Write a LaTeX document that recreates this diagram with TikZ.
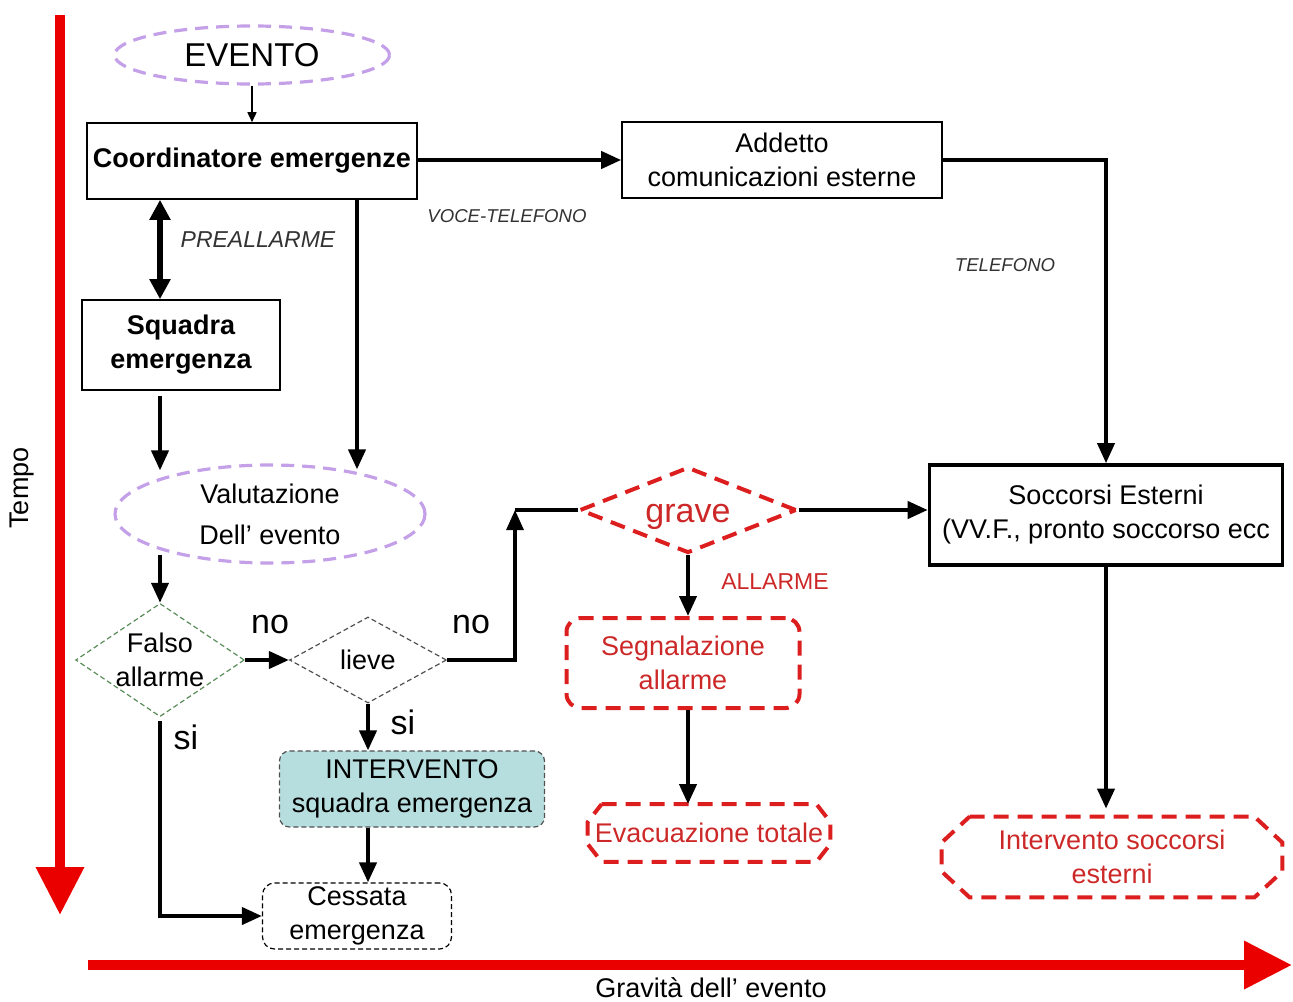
\documentclass[tikz,border=0pt]{standalone}
\usepackage{fontspec}
\setmainfont{Liberation Sans}
\usetikzlibrary{arrows.meta,shapes.geometric,calc}

\definecolor{lilac}{RGB}{196,160,232}
\definecolor{axisred}{RGB}{235,0,0}
\definecolor{dashred}{RGB}{220,30,30}
\definecolor{redtxt}{RGB}{205,40,40}
\definecolor{dashgreen}{RGB}{90,140,90}
\definecolor{dashgray}{RGB}{80,80,80}
\definecolor{tealfill}{RGB}{183,222,222}
\definecolor{notegray}{RGB}{50,50,50}

\newcommand{\basefs}{\fontsize{13.5}{17}\selectfont}
\newcommand{\eventfs}{\fontsize{16.5}{20}\selectfont}
\newcommand{\labelfs}{\fontsize{17}{20}\selectfont}
\newcommand{\notefs}{\fontsize{11.5}{14}\selectfont}
\newcommand{\smallfs}{\fontsize{9.3}{11}\selectfont}

\begin{document}
\begin{tikzpicture}[x=0.5pt,y=-0.5pt,
  box/.style={draw, line width=0.8pt, align=center, inner sep=1pt, font=\basefs},
  oval/.style={ellipse, draw=lilac, line width=1.6pt, dash pattern=on 6.5pt off 4pt, inner sep=0pt, align=center, font=\basefs},
  thindash/.style={line width=0.6pt, dash pattern=on 2.5pt off 1.5pt},
  diam/.style={diamond, thindash, inner sep=0pt, align=center, font=\basefs},
  redline/.style={draw=dashred, line width=2pt, dash pattern=on 7.5pt off 4.5pt},
  redbox/.style={redline, text=redtxt, align=center, inner sep=1pt, font=\basefs},
  redtext/.style={text=redtxt, align=center, inner sep=1pt, font=\basefs},
  arr/.style={line width=2pt, -{Triangle[length=10pt,width=8.5pt]}},
  thinarr/.style={line width=0.8pt, -{Triangle[length=5pt,width=4.5pt]}},
  dblarr/.style={line width=3pt, {Triangle[length=10pt,width=10pt]}-{Triangle[length=10pt,width=10pt]}},
  axis/.style={draw=axisred, line width=5pt, -{Triangle[length=24pt,width=23pt]}},
  lbl/.style={font=\labelfs, inner sep=0pt},
  note/.style={font=\notefs\itshape, text=notegray, inner sep=0pt}]

\useasboundingbox (0,0) rectangle (1293,1001);

% axes
\coordinate (tstart) at (60,15);
\coordinate (tend) at (60,915);
\coordinate (gstart) at (88,965);
\coordinate (gend) at (1292,965);
\draw[axis] (tstart) -- (tend);
\draw[axis] (gstart) -- (gend);
\node[rotate=90, font=\basefs] (tempo) at (22,488) {Tempo};
\node[font=\basefs] (gravita) at (711,988) {Gravità dell’ evento};

% lanes
\coordinate (laneA) at (160,0);
\coordinate (laneB) at (357,0);
\coordinate (up) at (515,510);

% nodes
\node[oval, font=\eventfs, minimum width=137.5pt, minimum height=29pt] (evento) at (252,55) {EVENTO};
\node[box, font=\basefs\bfseries, minimum width=165pt, minimum height=38pt] (coord) at (252,161) {Coordinatore emergenze};
\node[box, minimum width=160pt, minimum height=38pt] (addetto) at (782,160) {Addetto\\comunicazioni esterne};
\node[box, font=\basefs\bfseries, minimum width=99pt, minimum height=45pt] (squadra) at (181,345) {Squadra\\emergenza};
\node[oval, font=\fontsize{13.5}{20.5}\selectfont, minimum width=155pt, minimum height=49pt] (valut) at (270,514) {Valutazione\\Dell’ evento};
\node[diam, draw=dashgreen, aspect=1.49, minimum width=82pt, minimum height=55pt] (falso) at (160,660) {Falso\\allarme};
\node[diam, draw=dashgray, aspect=1.83, minimum width=78.5pt, minimum height=43pt] (lieve) at (368,660) {lieve};
\node[diamond, redbox, font=\labelfs, inner sep=0pt, text height=12pt, text depth=0pt, aspect=2.5, minimum width=108.5pt, minimum height=43pt] (grave) at (688,510) {grave};
\node[box, line width=1.8pt, minimum width=176.5pt, minimum height=50pt] (socc) at (1106,515) {Soccorsi Esterni\\(VV.F., pronto soccorso ecc};
\node[redbox, rounded corners=7pt, minimum width=116.5pt, minimum height=45pt] (segn) at (683,663) {Segnalazione\\allarme};
\node[redtext, minimum width=121pt, minimum height=28.5pt] (evac) at (709,833) {Evacuazione totale};
\node[redtext, minimum width=170pt, minimum height=40pt] (intsocc) at (1112,857) {Intervento soccorsi\\esterni};
\node[box, draw=dashgray, thindash, fill=tealfill, rounded corners=5pt, minimum width=132.5pt, minimum height=38pt] (interv) at (412,789) {INTERVENTO\\squadra emergenza};
\node[box, thindash, rounded corners=6pt, minimum width=94.5pt, minimum height=33pt] (cessata) at (357,916) {Cessata\\emergenza};

% chamfered outlines
\draw[redline] ([xshift=7pt]evac.north west) -- ([xshift=-7pt]evac.north east) -- ([yshift=-9pt]evac.north east)
  -- ([yshift=9pt]evac.south east) -- ([xshift=-7pt]evac.south east) -- ([xshift=7pt]evac.south west)
  -- ([yshift=9pt]evac.south west) -- ([yshift=-9pt]evac.north west) -- cycle;
\draw[redline] ([xshift=14pt]intsocc.north west) -- ([xshift=-14pt]intsocc.north east) -- ([yshift=-13pt]intsocc.north east)
  -- ([yshift=13pt]intsocc.south east) -- ([xshift=-14pt]intsocc.south east) -- ([xshift=14pt]intsocc.south west)
  -- ([yshift=13pt]intsocc.south west) -- ([yshift=-13pt]intsocc.north west) -- cycle;

% connectors
\draw[thinarr] (evento) -- (coord);
\draw[arr] (coord.east |- addetto.west) -- (addetto.west);
\draw[arr, line width=1.8pt] (addetto.east) -| (socc.north);
\draw[dblarr] (coord.south -| laneA) -- (squadra.north -| laneA);
\draw[arr, shorten <=2.5pt, shorten >=-3.5pt] (squadra.south -| laneA) -- (valut.north -| laneA);
\draw[arr, shorten >=-3pt] (coord.south -| laneB) -- (valut.north -| laneB);
\draw[arr, shorten <=-5pt] (valut.south -| laneA) -- (falso.north);
\draw[arr] (falso) -- (lieve);
\draw[arr, line width=1.6pt] (lieve.east) -| (up);
\draw[line width=1.6pt] (up) -- (grave.west);
\draw[arr] (grave.east) -- (grave.east -| socc.west);
\draw[arr] (grave.south) -- (grave.south |- segn.north);
\draw[arr] (segn.south -| grave) -- (evac.north -| grave);
\draw[arr, shorten >=4pt] (socc.south) -- (socc.south |- intsocc.north);
\draw[arr] (lieve.south) -- (lieve.south |- interv.north);
\draw[arr] (interv.south -| lieve) -- (cessata.north -| lieve);
\draw[arr, shorten <=2pt] (falso.south) |- (cessata.west);

% labels
\node[lbl] (no1) at (270,625) {no};
\node[lbl] (no2) at (471,625) {no};
\node[lbl] (si1) at (186,737) {si};
\node[lbl] (si2) at (403,722) {si};
\node[font=\notefs, text=redtxt, inner sep=0pt] (allarme) at (775,582) {ALLARME};
\node[note] (prealarm) at (258,240) {PREALLARME};
\node[note, font=\smallfs\itshape] (voce) at (507,216) {VOCE-TELEFONO};
\node[note, font=\smallfs\itshape] (tel) at (1005,265) {TELEFONO};
\end{tikzpicture}
\end{document}
